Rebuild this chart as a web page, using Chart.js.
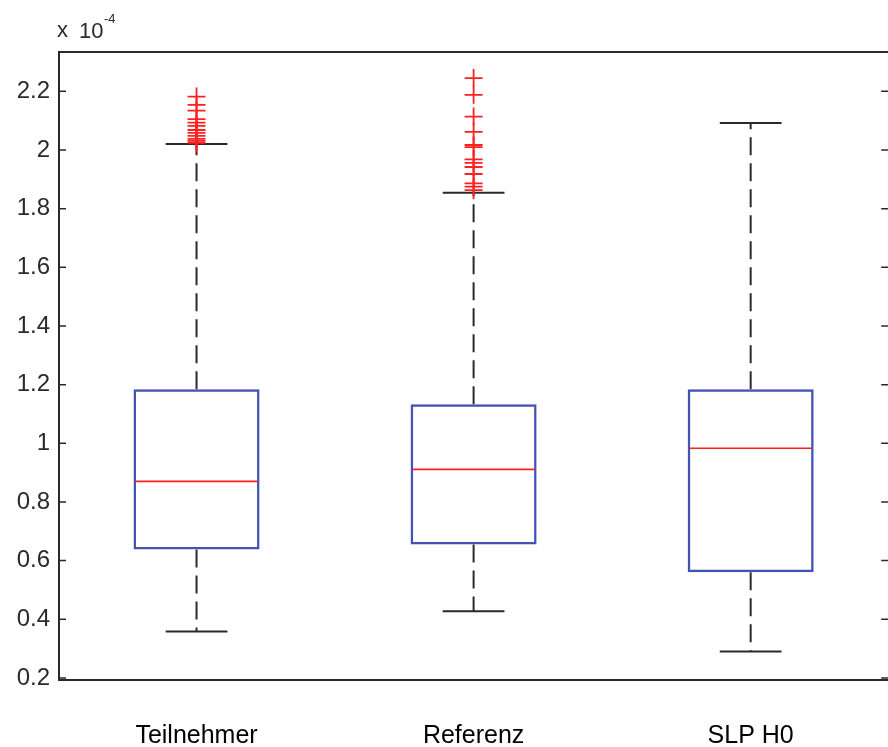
<!DOCTYPE html>
<html>
<head>
<meta charset="utf-8">
<script src="https://cdn.jsdelivr.net/npm/chart.js@4.4.1/dist/chart.umd.min.js"></script>
<style>
  html, body { margin: 0; padding: 0; background: #ffffff; overflow: hidden; }
  #wrap { width: 900px; height: 747px; }
</style>
</head>
<body>
<div id="wrap"><canvas id="c" width="900" height="747"></canvas></div>
<script>
// Values in units of 1e-4
const categories = ['Teilnehmer', 'Referenz', 'SLP H0'];
const q1 = [0.638, 0.655, 0.560];
const median = [0.870, 0.911, 0.983];
const q3 = [1.184, 1.133, 1.184];
const whiskerLow = [0.358, 0.427, 0.290];
const whiskerHigh = [2.020, 1.854, 2.092];
const outliersTeilnehmer = [2.182, 2.154, 2.134, 2.105, 2.093, 2.082, 2.068, 2.058, 2.048, 2.038, 2.031, 2.024];
const outliersReferenz = [2.245, 2.188, 2.114, 2.062, 2.017, 2.010, 1.968, 1.956, 1.942, 1.918, 1.886, 1.875, 1.863];
const outliersSlp = [];
const yTickValues = [0.2, 0.4, 0.6, 0.8, 1.0, 1.2, 1.4, 1.6, 1.8, 2.0, 2.2];
const yTickLabels = ['0.2', '0.4', '0.6', '0.8', '1', '1.2', '1.4', '1.6', '1.8', '2', '2.2'];
const yMin = 0.193, yMax = 2.334;

const BLUE = '#4452b4';
const RED = '#ff2020';
const DARK = '#2a2a2a';
const FONT = '"Liberation Sans", Arial, Helvetica, sans-serif';

const outlierPoints = [];
[outliersTeilnehmer, outliersReferenz, outliersSlp].forEach((arr, i) => {
  arr.forEach(v => outlierPoints.push({ x: categories[i], y: v }));
});

const boxPlugin = {
  id: 'boxParts',
  beforeDatasetsDraw(chart) {
    const ctx = chart.ctx;
    const ys = chart.scales.y;
    const meta = chart.getDatasetMeta(0);
    ctx.save();
    meta.data.forEach((bar, i) => {
      const x = bar.x;
      const capHalf = bar.width * 0.245;
      ctx.strokeStyle = DARK;
      ctx.lineWidth = 2;
      ctx.setLineDash([18, 8]);
      ctx.beginPath();
      ctx.moveTo(x, ys.getPixelForValue(q3[i]));
      ctx.lineTo(x, ys.getPixelForValue(whiskerHigh[i]));
      ctx.moveTo(x, ys.getPixelForValue(q1[i]));
      ctx.lineTo(x, ys.getPixelForValue(whiskerLow[i]));
      ctx.stroke();
      ctx.setLineDash([]);
      ctx.beginPath();
      [whiskerHigh[i], whiskerLow[i]].forEach(v => {
        const py = ys.getPixelForValue(v);
        ctx.moveTo(x - capHalf, py);
        ctx.lineTo(x + capHalf, py);
      });
      ctx.stroke();
    });
    ctx.restore();
  },
  afterDatasetsDraw(chart) {
    const ctx = chart.ctx;
    const ys = chart.scales.y;
    const meta = chart.getDatasetMeta(0);
    ctx.save();
    ctx.strokeStyle = RED;
    ctx.lineWidth = 1.6;
    meta.data.forEach((bar, i) => {
      const py = ys.getPixelForValue(median[i]);
      ctx.beginPath();
      ctx.moveTo(bar.x - bar.width / 2 + 2, py);
      ctx.lineTo(bar.x + bar.width / 2 - 2, py);
      ctx.stroke();
    });
    ctx.restore();
  },
  afterDraw(chart) {
    const ctx = chart.ctx;
    const a = chart.chartArea;
    const ys = chart.scales.y;
    ctx.save();
    ctx.strokeStyle = DARK;
    ctx.lineWidth = 2;
    ctx.strokeRect(a.left + 1, a.top, a.right - a.left - 1, a.bottom - a.top);
    ctx.lineWidth = 1.5;
    ctx.beginPath();
    yTickValues.forEach(v => {
      const py = ys.getPixelForValue(v);
      ctx.moveTo(a.left + 1, py);
      ctx.lineTo(a.left + 8, py);
      ctx.moveTo(a.right, py);
      ctx.lineTo(a.right - 8, py);
    });
    ctx.stroke();
    // exponent label
    ctx.fillStyle = DARK;
    ctx.textBaseline = 'alphabetic';
    ctx.textAlign = 'left';
    ctx.font = '22px ' + FONT;
    ctx.fillText('x', 57, 37);
    ctx.fillText('10', 79, 38);
    ctx.font = '13px ' + FONT;
    ctx.fillText('-4', 104, 23);
    ctx.restore();
  }
};

new Chart(document.getElementById('c'), {
  type: 'bar',
  data: {
    labels: categories,
    datasets: [
      {
        type: 'bar',
        data: q1.map((v, i) => [v, q3[i]]),
        backgroundColor: 'rgba(255,255,255,0)',
        borderColor: BLUE,
        borderWidth: 2.5,
        borderSkipped: false,
        categoryPercentage: 1.0,
        barPercentage: 0.455,
        order: 2
      },
      {
        type: 'scatter',
        data: outlierPoints,
        pointStyle: 'cross',
        radius: 9,
        hoverRadius: 9,
        borderColor: RED,
        backgroundColor: RED,
        borderWidth: 1.8,
        order: 1
      }
    ]
  },
  options: {
    responsive: false,
    animation: false,
    devicePixelRatio: 1,
    layout: { padding: { top: 52, right: 5, left: 0, bottom: 0 } },
    plugins: { legend: { display: false }, tooltip: { enabled: false } },
    scales: {
      x: {
        type: 'category',
        offset: true,
        grid: { display: false },
        border: { display: false },
        ticks: {
          color: '#000000',
          font: { family: FONT, size: 25 },
          padding: 33,
          maxRotation: 0
        },
        afterFit(s) { s.height = 67; }
      },
      y: {
        type: 'linear',
        min: yMin,
        max: yMax,
        grid: { display: false },
        border: { display: false },
        afterBuildTicks(s) { s.ticks = yTickValues.map(v => ({ value: v })); },
        ticks: {
          color: DARK,
          font: { family: FONT, size: 24 },
          padding: 0,
          callback(value) {
            const idx = yTickValues.findIndex(t => Math.abs(t - value) < 1e-9);
            return idx >= 0 ? yTickLabels[idx] : '';
          }
        },
        afterFit(s) { s.width = 58; }
      }
    }
  },
  plugins: [boxPlugin]
});
</script>
</body>
</html>
